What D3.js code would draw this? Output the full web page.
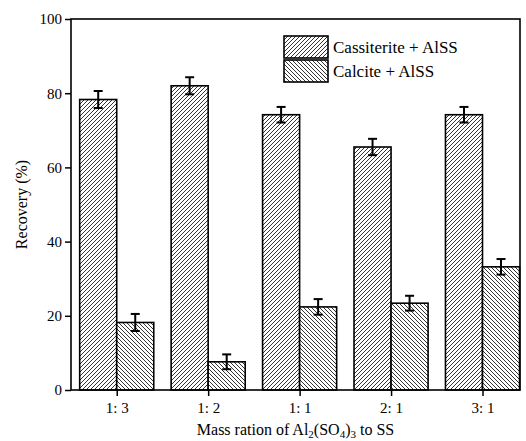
<!DOCTYPE html>
<html>
<head>
<meta charset="utf-8">
<script src="https://cdn.jsdelivr.net/npm/d3@7"></script>
<style>
  body { margin: 0; background: #fff; }
</style>
</head>
<body>
<div id="chart"></div>
<script>
// data
const ratios = ['1: 3', '1: 2', '1: 1', '2: 1', '3: 1'];
const cassiterite = [78.3, 82.0, 74.2, 65.5, 74.2];
const cassiteriteErr = [2.3, 2.3, 2.1, 2.2, 2.1];
const calcite = [18.2, 7.6, 22.4, 23.4, 33.2];
const calciteErr = [2.3, 2.0, 2.1, 2.0, 2.1];
const yTicks = [0, 20, 40, 60, 80, 100];
const seriesNames = ['Cassiterite + AlSS', 'Calcite + AlSS'];

const FONT = 'Liberation Serif';
const W = 526, H = 441;
const margin = { top: 19, right: 6, bottom: 51, left: 71 };

const svg = d3.select('#chart').append('svg')
    .attr('width', W)
    .attr('height', H)
    .style('font-family', FONT);

// hatch patterns
const defs = svg.append('defs');
function hatch(id, d) {
    const p = defs.append('pattern')
        .attr('id', id)
        .attr('patternUnits', 'userSpaceOnUse')
        .attr('width', 4)
        .attr('height', 4);
    p.append('rect').attr('width', 4).attr('height', 4).attr('fill', '#fff');
    p.append('path').attr('d', d)
        .attr('stroke', '#000')
        .attr('stroke-width', 0.8);
}
hatch('fwd', 'M-1,1 l2,-2 M0,4 l4,-4 M3,5 l2,-2');
hatch('back', 'M-1,3 l2,2 M0,0 l4,4 M3,-1 l2,2');

const x = d3.scaleLinear()
    .domain([-0.5, 4.41])
    .range([margin.left, W - margin.right]);
const y = d3.scaleLinear()
    .domain([0, 100])
    .range([H - margin.bottom, margin.top]);
const bw = x(0.405) - x(0);

const g = svg.append('g');

// bars
const series = [
    { vals: cassiterite, err: cassiteriteErr, fill: 'url(#fwd)', off: -bw },
    { vals: calcite, err: calciteErr, fill: 'url(#back)', off: 0 }
];

series.forEach(s => {
    g.selectAll(null)
        .data(s.vals)
        .enter()
        .append('rect')
        .attr('x', (d, i) => x(i) + s.off)
        .attr('y', d => y(d))
        .attr('width', bw)
        .attr('height', d => y(0) - y(d))
        .attr('fill', s.fill)
        .attr('stroke', '#000')
        .attr('stroke-width', 1.6);

    // error bars
    const eb = g.selectAll(null)
        .data(s.vals)
        .enter()
        .append('g')
        .attr('stroke', '#000')
        .attr('stroke-width', 2);
    const cx = (d, i) => x(i) + s.off + bw / 2;
    eb.append('line')
        .attr('x1', cx).attr('x2', cx)
        .attr('y1', (d, i) => y(d + s.err[i]))
        .attr('y2', (d, i) => y(d - s.err[i]));
    eb.append('line')
        .attr('x1', (d, i) => cx(d, i) - 4.5).attr('x2', (d, i) => cx(d, i) + 4.5)
        .attr('y1', (d, i) => y(d + s.err[i]))
        .attr('y2', (d, i) => y(d + s.err[i]));
    eb.append('line')
        .attr('x1', (d, i) => cx(d, i) - 4.5).attr('x2', (d, i) => cx(d, i) + 4.5)
        .attr('y1', (d, i) => y(d - s.err[i]))
        .attr('y2', (d, i) => y(d - s.err[i]));
});

// frame
svg.append('rect')
    .attr('x', margin.left)
    .attr('y', margin.top)
    .attr('width', W - margin.right - margin.left)
    .attr('height', H - margin.bottom - margin.top)
    .attr('fill', 'none')
    .attr('stroke', '#000')
    .attr('stroke-width', 1.6);

// axes
const yAxis = svg.append('g')
    .attr('transform', `translate(${margin.left},0)`)
    .call(d3.axisLeft(y).tickValues(yTicks).tickSize(6).tickPadding(3));
const xAxis = svg.append('g')
    .attr('transform', `translate(0,${H - margin.bottom})`)
    .call(d3.axisBottom(x).tickValues(d3.range(ratios.length))
        .tickFormat(i => ratios[i]).tickSize(6).tickPadding(6));
[yAxis, xAxis].forEach(a => {
    a.attr('font-family', FONT).attr('font-size', 15);
    a.select('.domain').remove();
    a.selectAll('.tick line').attr('stroke-width', 1.5);
    a.selectAll('.tick text')
        .style('font-family', FONT)
        .style('font-size', '15px');
});

// axis titles
svg.append('text')
    .attr('transform', `translate(27,${(margin.top + H - margin.bottom) / 2}) rotate(-90)`)
    .attr('text-anchor', 'middle')
    .style('font-family', FONT)
    .style('font-size', '16px')
    .text('Recovery (%)');

const xt = svg.append('text')
    .attr('x', (margin.left + W - margin.right) / 2)
    .attr('y', 435)
    .attr('text-anchor', 'middle')
    .style('font-family', FONT)
    .style('font-size', '16px');
xt.append('tspan').text('Mass ration of Al');
xt.append('tspan').attr('dy', 3).style('font-size', '11px').text('2');
xt.append('tspan').attr('dy', -3).text('(SO');
xt.append('tspan').attr('dy', 3).style('font-size', '11px').text('4');
xt.append('tspan').attr('dy', -3).text(')');
xt.append('tspan').attr('dy', 3).style('font-size', '11px').text('3');
xt.append('tspan').attr('dy', -3).text(' to SS');

// legend
const lg = svg.append('g').attr('transform', 'translate(284,36)');
seriesNames.forEach((name, i) => {
    lg.append('rect')
        .attr('x', 0)
        .attr('y', i * 24)
        .attr('width', 44)
        .attr('height', 22)
        .attr('fill', series[i].fill)
        .attr('stroke', '#000')
        .attr('stroke-width', 1.6);
    lg.append('text')
        .attr('x', 49)
        .attr('y', i * 24 + 17)
        .style('font-family', FONT)
        .style('font-size', '17px')
        .text(name);
});
</script>
</body>
</html>
